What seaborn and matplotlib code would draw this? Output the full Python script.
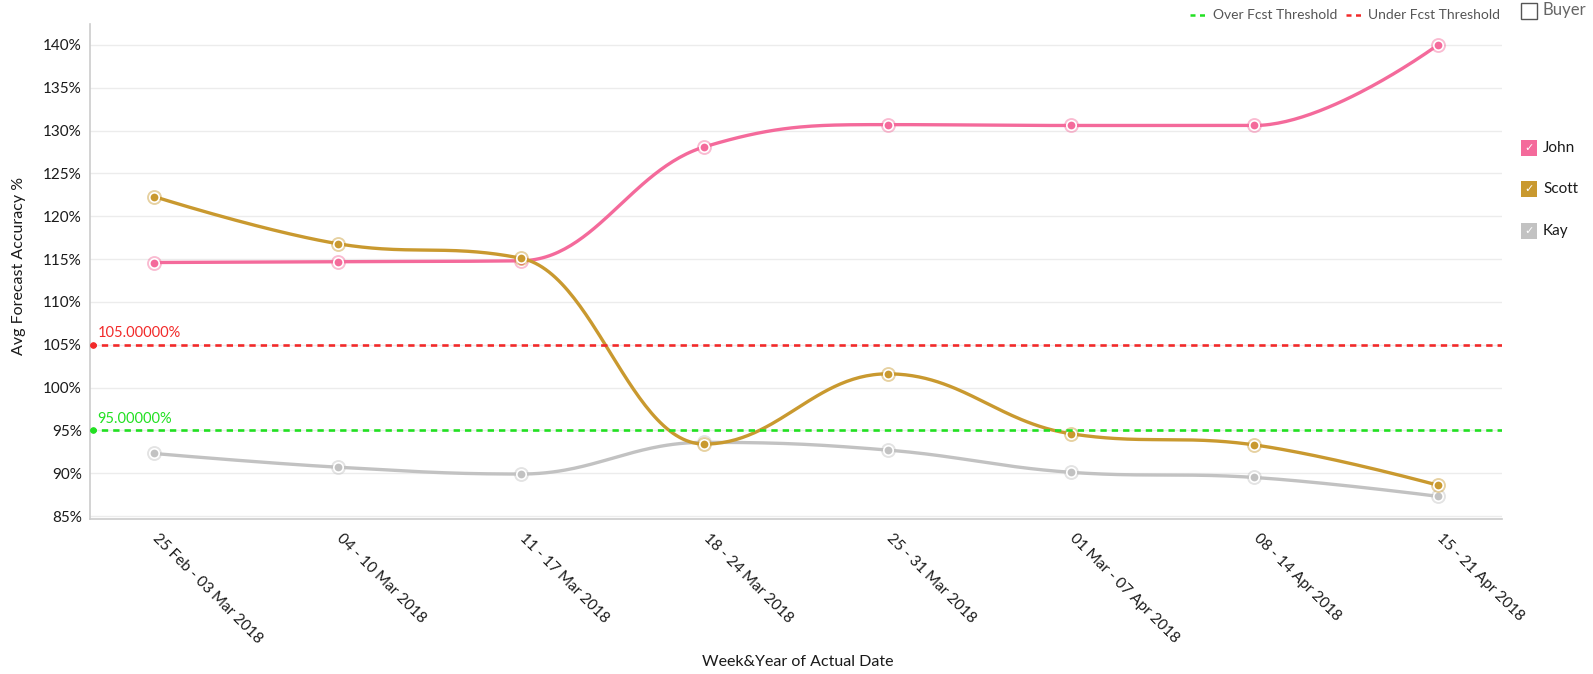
import numpy as np
import pandas as pd
import matplotlib
matplotlib.use("Agg")
import matplotlib.pyplot as plt
from matplotlib.patches import Rectangle
from matplotlib.lines import Line2D
from matplotlib.ticker import FuncFormatter, MultipleLocator
from matplotlib.transforms import ScaledTranslation
import seaborn as sns

# ---- data -------------------------------------------------------------
weeks = [
    "25 Feb - 03 Mar 2018",
    "04 - 10 Mar 2018",
    "11 - 17 Mar 2018",
    "18 - 24 Mar 2018",
    "25 - 31 Mar 2018",
    "01 Mar - 07 Apr 2018",
    "08 - 14 Apr 2018",
    "15 - 21 Apr 2018",
]
john = [114.6, 114.7, 114.8, 128.1, 130.7, 130.6, 130.6, 140.0]
scott = [122.3, 116.8, 115.1, 93.4, 101.6, 94.6, 93.3, 88.6]
kay = [92.3, 90.7, 89.9, 93.6, 92.7, 90.1, 89.5, 87.3]
buyers = ["John", "Scott", "Kay"]
buyer_colors = ["#f46a9b", "#c9992f", "#c2c2c2"]
over_threshold = 95.0
under_threshold = 105.0
over_color = "#22e022"
under_color = "#f22a2a"

W, H = 1593, 674
sns.set_theme(style="white")
plt.rcParams["font.family"] = ["Lato", "DejaVu Sans"]

fig = plt.figure(figsize=(W / 100, H / 100), dpi=100)
ax = fig.add_axes([90 / W, 1 - 519 / H, (1502 - 90) / W, (519 - 24) / H])


def spline_points(values, smoothing=1.5, n=60):
    """Smooth path through the points using Bezier control points."""
    xs = np.arange(len(values), dtype=float)
    ys = np.asarray(values, dtype=float)
    N = len(ys)
    lc = [(xs[i], ys[i]) for i in range(N)]
    rc = [(xs[i], ys[i]) for i in range(N)]
    d = smoothing + 1
    for i in range(1, N - 1):
        px, py = xs[i], ys[i]
        lx, ly, nx, ny = xs[i - 1], ys[i - 1], xs[i + 1], ys[i + 1]
        lcx, lcy = (smoothing * px + lx) / d, (smoothing * py + ly) / d
        rcx, rcy = (smoothing * px + nx) / d, (smoothing * py + ny) / d
        corr = (rcy - lcy) * (rcx - px) / (rcx - lcx) + py - rcy
        lcy += corr
        rcy += corr
        if lcy > ly and lcy > py:
            lcy = max(ly, py); rcy = 2 * py - lcy
        elif lcy < ly and lcy < py:
            lcy = min(ly, py); rcy = 2 * py - lcy
        if rcy > ny and rcy > py:
            rcy = max(ny, py); lcy = 2 * py - rcy
        elif rcy < ny and rcy < py:
            rcy = min(ny, py); lcy = 2 * py - rcy
        lc[i] = (lcx, lcy)
        rc[i] = (rcx, rcy)
    t = np.linspace(0, 1, n)[:, None]
    out = []
    for i in range(N - 1):
        p0 = np.array([xs[i], ys[i]])
        p1 = np.array(rc[i])
        p2 = np.array(lc[i + 1])
        p3 = np.array([xs[i + 1], ys[i + 1]])
        seg = ((1 - t) ** 3) * p0 + 3 * ((1 - t) ** 2) * t * p1 + 3 * (1 - t) * t ** 2 * p2 + t ** 3 * p3
        out.append(seg if i == 0 else seg[1:])
    return np.vstack(out)


series = {"John": john, "Scott": scott, "Kay": kay}
palette = dict(zip(buyers, buyer_colors))
z_order = {"Kay": 3, "John": 4, "Scott": 5}

for name in buyers:
    vals = series[name]
    curve = spline_points(vals)
    dense = pd.DataFrame({"x": curve[:, 0], "y": curve[:, 1]})
    sns.lineplot(data=dense, x="x", y="y", color=palette[name], lw=2.4,
                 sort=False, estimator=None, ax=ax, zorder=z_order[name])
    pts = pd.DataFrame({"x": np.arange(len(vals)), "y": vals})
    sns.scatterplot(data=pts, x="x", y="y", color=palette[name], s=115, alpha=0.45,
                    linewidth=0, ax=ax, zorder=z_order[name] + 0.1)
    sns.scatterplot(data=pts, x="x", y="y", color=palette[name], s=46,
                    edgecolor="white", linewidth=1.2, ax=ax, zorder=z_order[name] + 0.2)

# threshold lines
for val, col in [(under_threshold, under_color), (over_threshold, over_color)]:
    ax.axhline(val, color=col, lw=1.9, ls=(0, (2.4, 1.9)), zorder=6)
    ax.plot([-0.335], [val], marker="o", ms=3.8, color=col, zorder=7, clip_on=False)
    ax.text(-0.31, val + 0.55, f"{val:.5f}%", color=col, fontsize=10.5,
            ha="left", va="bottom", zorder=7)

ax.set_xlim(-0.35, 7.35)
ax.set_ylim(84.65, 142.45)
ax.yaxis.set_major_locator(MultipleLocator(5))
ax.yaxis.set_major_formatter(FuncFormatter(lambda v, p: f"{v:.0f}%"))
ax.set_xticks(range(len(weeks)))
ax.set_xticklabels(weeks, rotation=-45, ha="left", va="top", rotation_mode="anchor")
ax.tick_params(axis="both", length=0, labelsize=11, colors="#1a1a1a")
ax.tick_params(axis="x", pad=9)
ax.tick_params(axis="y", pad=6)
shift = ScaledTranslation(6 / 100, 0, fig.dpi_scale_trans)
for lbl in ax.get_xticklabels():
    lbl.set_transform(lbl.get_transform() + shift)
ax.grid(axis="y", color="#ececec", lw=1)
ax.grid(axis="x", visible=False)
for s in ["top", "right"]:
    ax.spines[s].set_visible(False)
for s in ["left", "bottom"]:
    ax.spines[s].set_color("#cccccc")
    ax.spines[s].set_linewidth(1.2)

ax.set_xlabel("Week&Year of Actual Date", fontsize=11.5, color="#1a1a1a")
ax.set_ylabel("Avg Forecast Accuracy %", fontsize=11.5, color="#1a1a1a")
ax.xaxis.set_label_coords((798 - 90) / (1502 - 90), -(655 - 519) / (519 - 24))
ax.yaxis.set_label_coords(-(90 - 26) / (1502 - 90), (519 - 266) / (519 - 24))


def fx(px):
    return px / W


def fy(py):
    return 1 - py / H


# top legend for thresholds
for x0, x1, tx, label, col in [(1190, 1208, 1213, "Over Fcst Threshold", over_color),
                               (1346, 1364, 1368, "Under Fcst Threshold", under_color)]:
    fig.add_artist(Line2D([fx(x0), fx(x1)], [fy(15), fy(15)], color=col, lw=1.8,
                          ls=(0, (2.0, 1.8))))
    fig.text(fx(tx), fy(15), label, fontsize=10, color="#555555", ha="left", va="center")

# buyer selector
fig.add_artist(Rectangle((fx(1521), fy(19)), 16 / W, 16 / H, facecolor="white",
                         edgecolor="#555555", lw=1.0, transform=fig.transFigure))
fig.text(fx(1543), fy(10), "Buyer", fontsize=12, color="#666666", ha="left", va="center")

for name, yc in zip(buyers, [148, 189, 231]):
    fig.add_artist(Rectangle((fx(1521), fy(yc + 8)), 16 / W, 16 / H,
                             facecolor=palette[name], edgecolor="none",
                             transform=fig.transFigure))
    fig.text(fx(1529), fy(yc), "\u2713", fontsize=8, color="white", ha="center",
             va="center", family=["DejaVu Sans"])
    fig.text(fx(1543), fy(yc), name, fontsize=11, color="#1a1a1a", ha="left", va="center")

fig.savefig("out.png", dpi=100, facecolor="white")
